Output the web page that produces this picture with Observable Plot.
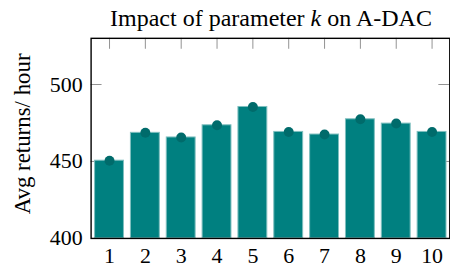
<!DOCTYPE html>
<html>
<head>
<meta charset="utf-8">
<script src="https://cdn.jsdelivr.net/npm/d3@7"></script>
<script src="https://cdn.jsdelivr.net/npm/@observablehq/plot@0.6"></script>
<style>
  html, body { margin: 0; padding: 0; background: #fff; overflow: hidden; width: 450px; height: 269px; }
  #wrap { position: relative; width: 450px; height: 269px; }
  #title { position: absolute; left: 91px; width: 360px; top: 6px; text-align: center;
           font-family: "Liberation Serif", serif; font-size: 24px; line-height: 24px; color: #000; white-space: nowrap; }
  #title i { font-style: italic; }
  #chart svg { font-family: "Liberation Serif", serif; }
  #chart svg text { font-family: "Liberation Serif", serif; font-size: 22px; fill: #000; }
  #chart svg text.ylab { font-size: 23px; }
</style>
</head>
<body>
<div id="wrap">
  <div id="title">Impact of parameter <i>k</i> on A-DAC</div>
  <div id="chart"></div>
</div>
<script>
const categories = ["1", "2", "3", "4", "5", "6", "7", "8", "9", "10"];
const values = [450.5, 468.6, 465.6, 473.5, 485.4, 469.2, 467.5, 477.4, 474.6, 469.2];
const yTicks = [400, 450, 500];
const yDomain = [400, 530];
const yLabel = "Avg returns/ hour";

const data = categories.map((c, i) => ({k: c, v: values[i]}));

const W = 452, H = 269, mL = 91, mR = 0.7, mT = 38, mB = 30;
const innerW = W - mL - mR, innerH = H - mT - mB;
const tickLen = 11;

const chart = Plot.plot({
  width: W,
  height: H,
  marginLeft: mL,
  marginRight: mR,
  marginTop: mT,
  marginBottom: mB,
  style: {fontFamily: "Liberation Serif, serif", fontSize: "22px", color: "#000", background: "#fff"},
  x: {domain: categories, paddingInner: 0.2, paddingOuter: 0.1, label: null},
  y: {domain: yDomain, label: null},
  marks: [
    Plot.tickY(yTicks.slice(1), {y: d => d, stroke: "#777", strokeWidth: 0.8, insetRight: innerW - tickLen}),
    Plot.tickY(yTicks.slice(1), {y: d => d, stroke: "#777", strokeWidth: 0.8, insetLeft: innerW - tickLen}),
    Plot.tickX(categories, {x: d => d, stroke: "#777", strokeWidth: 0.8, insetBottom: innerH - tickLen}),
    Plot.barY(data, {x: "k", y1: yDomain[0], y2: "v", fill: "#008080", stroke: "#7fbfbf", strokeWidth: 1}),
    Plot.dot(data, {x: "k", y: "v", r: 5, fill: "#006b6b", stroke: null}),
    Plot.frame({stroke: "#000", strokeWidth: 1.4}),
    Plot.axisY({ticks: yTicks, tickSize: 0, tickPadding: 8.5, label: null, fontSize: 22}),
    Plot.axisX({tickSize: 0, tickPadding: 9.5, label: null, fontSize: 22}),
    Plot.text([yLabel], {frameAnchor: "left", textAnchor: "middle", lineAnchor: "middle", dx: -69, dy: -4.5, rotate: -90, fontSize: 23, fill: "#000", className: "ylab"})
  ]
});
chart.querySelectorAll("g[aria-label='text'] text").forEach(t => t.classList.add("ylab"));
document.getElementById("chart").appendChild(chart);
</script>
</body>
</html>
